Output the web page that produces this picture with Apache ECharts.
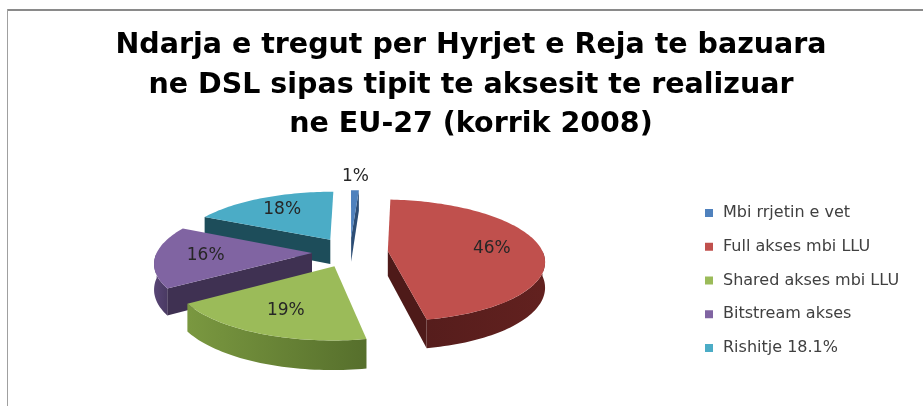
<!DOCTYPE html>
<html>
<head>
<meta charset="utf-8">
<script src="https://cdn.jsdelivr.net/npm/echarts@6/dist/echarts.min.js"></script>
<style>
    html, body { margin: 0; padding: 0; background: #fff; }
    #chart { width: 923px; height: 406px; }
</style>
</head>
<body>
<div id="chart"></div>
<script>
const titleLines = [
    'Ndarja e tregut per Hyrjet e Reja te bazuara',
    'ne DSL sipas tipit te aksesit te realizuar',
    'ne EU-27 (korrik 2008)'
];
const categories = ['Mbi rrjetin e vet', 'Full akses mbi LLU', 'Shared akses mbi LLU', 'Bitstream akses', 'Rishitje 18.1%'];
const shares = [1, 46, 19, 16, 18];
const shareLabels = ['1%', '46%', '19%', '16%', '18%'];

const topColors = ['#4f81bd', '#c0504d', '#9bbb59', '#8064a2', '#4bacc6'];
const faceColors = ['#2c4d75', '#4e1a19', '#55702a', '#3f3152', '#1d4d5a'];
const wallColors = [
    ['#2c4d75', '#2c4d75'],
    ['#561d1c', '#62211f'],
    ['#7a9840', '#566f2c'],
    ['#584575', '#4a3a63'],
    ['#2a6a7c', '#1d4d5a']
];

// pie geometry (screen px), tilted with a bit of perspective
const CX = 350, CY = 252, RX = 155, RY = 61, DEPTH = 25, EXPLODE = 0.245, PERSP = 0.15;

const total = shares.reduce((a, b) => a + b, 0);
const startAngles = [];
const endAngles = [];
let acc = 0;
shares.forEach(v => {
    startAngles.push(acc / total * 360);
    acc += v;
    endAngles.push(acc / total * 360);
});

const rad = d => d * Math.PI / 180;

function proj(X, Y, z) {
    const s = 1 - PERSP * Y;
    return [CX + X * RX * s, CY - Y * RY * s + z * DEPTH * s];
}

function arcPts(ox, oy, t0, t1, z) {
    const pts = [];
    const n = Math.max(2, Math.ceil(Math.abs(t1 - t0) / 1.5));
    for (let k = 0; k <= n; k++) {
        const t = rad(t0 + (t1 - t0) * k / n);
        pts.push(proj(ox + Math.sin(t), oy + Math.cos(t), z));
    }
    return pts;
}

function buildSlice(i, a0, a1) {
    const mid = rad((a0 + a1) / 2);
    const ox = EXPLODE * Math.sin(mid);
    const oy = EXPLODE * Math.cos(mid);
    const children = [];

    // radial cut faces that look toward the viewer
    [[a0, Math.sin(rad(a0)) < -1e-6], [a1, Math.sin(rad(a1)) > 1e-6]].forEach(([a, visible]) => {
        if (!visible) return;
        const t = rad(a);
        const ex = ox + Math.sin(t), ey = oy + Math.cos(t);
        children.push({
            type: 'polygon',
            shape: { points: [proj(ox, oy, 0), proj(ex, ey, 0), proj(ex, ey, 1), proj(ox, oy, 1)] },
            style: { fill: faceColors[i] }
        });
    });

    // outer wall, front half only
    const f0 = Math.max(a0, 90), f1 = Math.min(a1, 270);
    if (f1 > f0) {
        const top = arcPts(ox, oy, f0, f1, 0);
        const bottom = arcPts(ox, oy, f0, f1, 1).reverse();
        children.push({
            type: 'polygon',
            shape: { points: top.concat(bottom) },
            style: {
                fill: {
                    type: 'linear', x: 0, y: 0, x2: 1, y2: 0,
                    colorStops: [
                        { offset: 0, color: wallColors[i][0] },
                        { offset: 1, color: wallColors[i][1] }
                    ]
                }
            }
        });
    }

    children.push({
        type: 'polygon',
        shape: { points: [proj(ox, oy, 0)].concat(arcPts(ox, oy, a0, a1, 0)) },
        style: { fill: topColors[i] }
    });

    // percentage label: inside for big slices, above the rim for tiny ones
    let lp;
    if (shares[i] / total < 0.05) {
        const rim = proj(ox + Math.sin(mid), oy + Math.cos(mid), 0);
        lp = [rim[0] + Math.sin(mid) * 14, rim[1] - Math.cos(mid) * 14];
    } else {
        lp = proj(ox + 0.68 * Math.sin(mid), oy + 0.68 * Math.cos(mid), 0);
    }
    children.push({
        type: 'text',
        x: lp[0], y: lp[1],
        z2: 10,
        style: {
            text: shareLabels[i],
            fill: '#262626',
            font: '17px "DejaVu Sans"',
            textAlign: 'center',
            textVerticalAlign: 'middle'
        }
    });

    return { type: 'group', children };
}

// back slices are drawn first
const depthRank = shares.map((v, i) => i)
    .sort((p, q) => Math.cos(rad((startAngles[q] + endAngles[q]) / 2)) - Math.cos(rad((startAngles[p] + endAngles[p]) / 2)));

const chart = echarts.init(document.getElementById('chart'));

chart.setOption({
    animation: false,
    legend: {
        orient: 'vertical',
        left: 705,
        top: 204,
        padding: 0,
        icon: 'rect',
        itemWidth: 8,
        itemHeight: 8,
        itemGap: 15.75,
        selectedMode: false,
        data: categories,
        textStyle: {
            fontFamily: 'DejaVu Sans',
            fontSize: 16,
            lineHeight: 18,
            color: '#404040',
            padding: [0, 0, 0, 5]
        }
    },
    graphic: [
        { type: 'line', shape: { x1: 7, y1: 10, x2: 923, y2: 10 }, style: { stroke: '#8a8a8a', lineWidth: 2 } },
        { type: 'line', shape: { x1: 7.5, y1: 9, x2: 7.5, y2: 406 }, style: { stroke: '#a0a0a0', lineWidth: 1 } }
    ].concat(titleLines.map((line, k) => ({
        type: 'text',
        x: 471,
        y: 46 + k * 39.5,
        style: {
            text: line,
            fill: '#000',
            font: 'bold 28.5px "DejaVu Sans"',
            textAlign: 'center',
            textVerticalAlign: 'middle'
        }
    }))),
    series: categories.map((name, i) => ({
        type: 'custom',
        name: name,
        coordinateSystem: 'none',
        silent: true,
        z: 2 + depthRank.indexOf(i),
        itemStyle: { color: topColors[i] },
        data: [[shares[i], startAngles[i], endAngles[i]]],
        renderItem: (params, api) => buildSlice(i, api.value(1), api.value(2))
    }))
});
</script>
</body>
</html>
